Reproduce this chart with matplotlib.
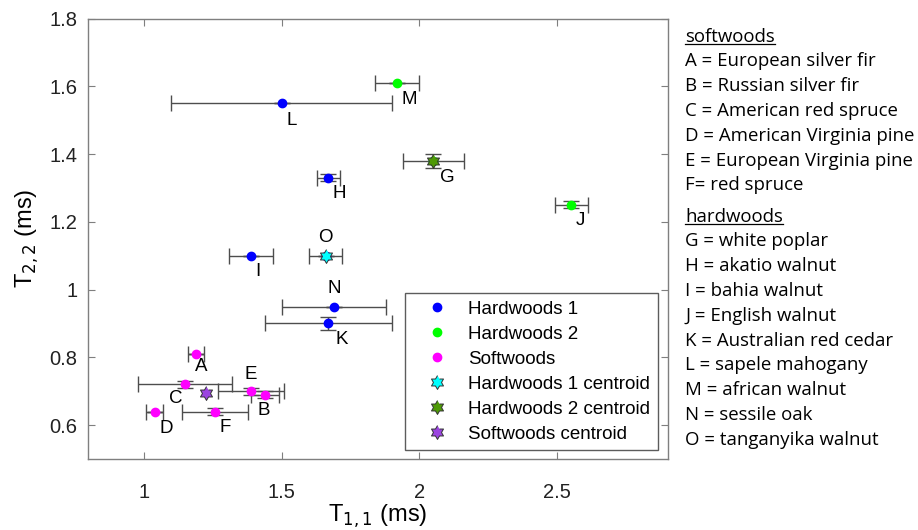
import numpy as np
import matplotlib
matplotlib.use("Agg")
import matplotlib.pyplot as plt

# =========================================================
# DATA
# =========================================================

hw1_names = ["H", "I", "K", "L", "N", "O"]
hw1_x = [1.67, 1.39, 1.67, 1.50, 1.69, 1.66]
hw1_y = [1.33, 1.10, 0.90, 1.55, 0.95, 1.10]
hw1_xerr = [0.04, 0.08, 0.23, 0.40, 0.19, 0.06]
hw1_yerr = [0.01, 0.0, 0.02, 0.0, 0.0, 0.0]

hw2_names = ["G", "J", "M"]
hw2_x = [2.05, 2.55, 1.92]
hw2_y = [1.38, 1.25, 1.61]
hw2_xerr = [0.11, 0.06, 0.08]
hw2_yerr = [0.02, 0.01, 0.0]

sw_names = ["A", "B", "C", "D", "E", "F"]
sw_x = [1.19, 1.44, 1.15, 1.04, 1.39, 1.26]
sw_y = [0.81, 0.69, 0.72, 0.64, 0.70, 0.64]
sw_xerr = [0.03, 0.05, 0.17, 0.03, 0.12, 0.12]
sw_yerr = [0.0, 0.01, 0.01, 0.0, 0.01, 0.01]

centroid_names = ["Hardwoods 1 centroid", "Hardwoods 2 centroid", "Softwoods centroid"]
centroid_x = [1.66, 2.05, 1.225]
centroid_y = [1.10, 1.38, 0.695]

x_ticks = [1, 1.5, 2, 2.5]
y_ticks = [0.6, 0.8, 1, 1.2, 1.4, 1.6, 1.8]

softwood_key = [
    "A = European silver fir",
    "B = Russian silver fir",
    "C = American red spruce",
    "D = American Virginia pine",
    "E = European Virginia pine",
    "F= red spruce",
]

hardwood_key = [
    "G = white poplar",
    "H = akatio walnut",
    "I = bahia walnut",
    "J = English walnut",
    "K = Australian red cedar",
    "L = sapele mahogany",
    "M = african walnut",
    "N = sessile oak",
    "O = tanganyika walnut",
]

# label offsets in pixels (dx, dy)
label_offsets = {
    "A": (5, -13), "B": (-1, -16), "C": (-9, -14), "D": (12, -17),
    "E": (0, 17), "F": (10, -16), "G": (14, -17), "H": (11, -16),
    "I": (7, -16), "J": (9, -16), "K": (13, -16), "L": (10, -17),
    "M": (12, -17), "N": (0, 18), "O": (0, 18),
}

# =========================================================
# STYLE
# =========================================================

plt.rcParams["font.family"] = ["Liberation Sans", "DejaVu Sans"]

blue = "#0000FF"
green = "#00FF00"
magenta = "#FF00FF"
star_colors = ["#00FFFF", "#4E9A06", "#9B45E0"]
err_color = "#4D4D4D"
axis_color = "#7F7F7F"

# hexagram marker shape
ang = np.pi / 2 + np.arange(12) * np.pi / 6
rad = np.where(np.arange(12) % 2 == 0, 1.0, 0.58)
hexagram = list(zip(rad * np.cos(ang), rad * np.sin(ang)))

fig = plt.figure(figsize=(9.18, 5.30), dpi=100)
ax = fig.add_axes([0.0964, 0.134, 0.631, 0.831])

# =========================================================
# DRAW GROUPS
# =========================================================

groups = [
    (hw1_names, hw1_x, hw1_y, hw1_xerr, hw1_yerr, blue, "Hardwoods 1"),
    (hw2_names, hw2_x, hw2_y, hw2_xerr, hw2_yerr, green, "Hardwoods 2"),
    (sw_names, sw_x, sw_y, sw_xerr, sw_yerr, magenta, "Softwoods"),
]

handles = []

for names, xs, ys, xe, ye, col, lab in groups:

    ax.errorbar(
        xs, ys, xerr=xe, yerr=ye,
        fmt="none", ecolor=err_color,
        elinewidth=1, capsize=6, capthick=1, zorder=2
    )

    h, = ax.plot(
        xs, ys, "o", color=col, markersize=6,
        linestyle="none", label=lab, zorder=3
    )

    handles.append(h)

    for n, x, y in zip(names, xs, ys):
        dx, dy = label_offsets[n]
        ax.annotate(
            n, (x, y), xytext=(dx, dy),
            textcoords="offset pixels",
            ha="center", va="center", fontsize=13.5
        )

for cx, cy, col, lab in zip(centroid_x, centroid_y, star_colors, centroid_names):

    h, = ax.plot(
        cx, cy, marker=hexagram, color=col, markersize=10,
        markeredgecolor="#333333", markeredgewidth=0.7,
        linestyle="none", label=lab, zorder=4
    )

    handles.append(h)

# =========================================================
# AXES
# =========================================================

ax.set_xlim(0.8, 2.9)
ax.set_ylim(0.5, 1.8)
ax.set_xticks(x_ticks)
ax.set_xticklabels(["1", "1.5", "2", "2.5"])
ax.set_yticks(y_ticks)
ax.set_yticklabels(["0.6", "0.8", "1", "1.2", "1.4", "1.6", "1.8"])

ax.tick_params(
    direction="in", top=True, right=True, length=5,
    color=axis_color, labelsize=14.5, labelcolor="#222222"
)
ax.tick_params(axis="x", pad=17)
ax.tick_params(axis="y", pad=8)

for s in ax.spines.values():
    s.set_color(axis_color)
    s.set_linewidth(1)

ax.set_xlabel("T$_{1,1}$ (ms)", fontsize=17, labelpad=1)
ax.set_ylabel("T$_{2,2}$ (ms)", fontsize=17, labelpad=6)

leg = ax.legend(
    handles=handles, loc="lower right",
    fontsize=13.5, frameon=True, fancybox=False,
    edgecolor="#333333", labelspacing=0.42,
    handlelength=2.6, handletextpad=0.4, borderpad=0.4,
    borderaxespad=0, bbox_to_anchor=(0.983, 0.02), numpoints=1
)
leg.get_frame().set_linewidth(1)

# =========================================================
# SPECIES KEY
# =========================================================

key_font = ["Open Sans", "DejaVu Sans"]
key_size = 13.4
x0 = 685 / 918
line_h = 24.8 / 530

fig.canvas.draw()
renderer = fig.canvas.get_renderer()


def heading(y, text):

    head = fig.text(x0, y, text, fontsize=key_size, family=key_font, va="center")

    bb = head.get_window_extent(renderer).transformed(fig.transFigure.inverted())

    fig.lines.append(plt.Line2D(
        [bb.x0, bb.x1], [bb.y0 + 0.003, bb.y0 + 0.003],
        transform=fig.transFigure, color="black", lw=0.9
    ))


y = 1 - 36.7 / 530
heading(y, "softwoods")

for t in softwood_key:
    y -= line_h
    fig.text(x0, y, t, fontsize=key_size, family=key_font, va="center")

y = 1 - 216.7 / 530
heading(y, "hardwoods")

for t in hardwood_key:
    y -= line_h
    fig.text(x0, y, t, fontsize=key_size, family=key_font, va="center")

fig.savefig("out.png", dpi=100)
